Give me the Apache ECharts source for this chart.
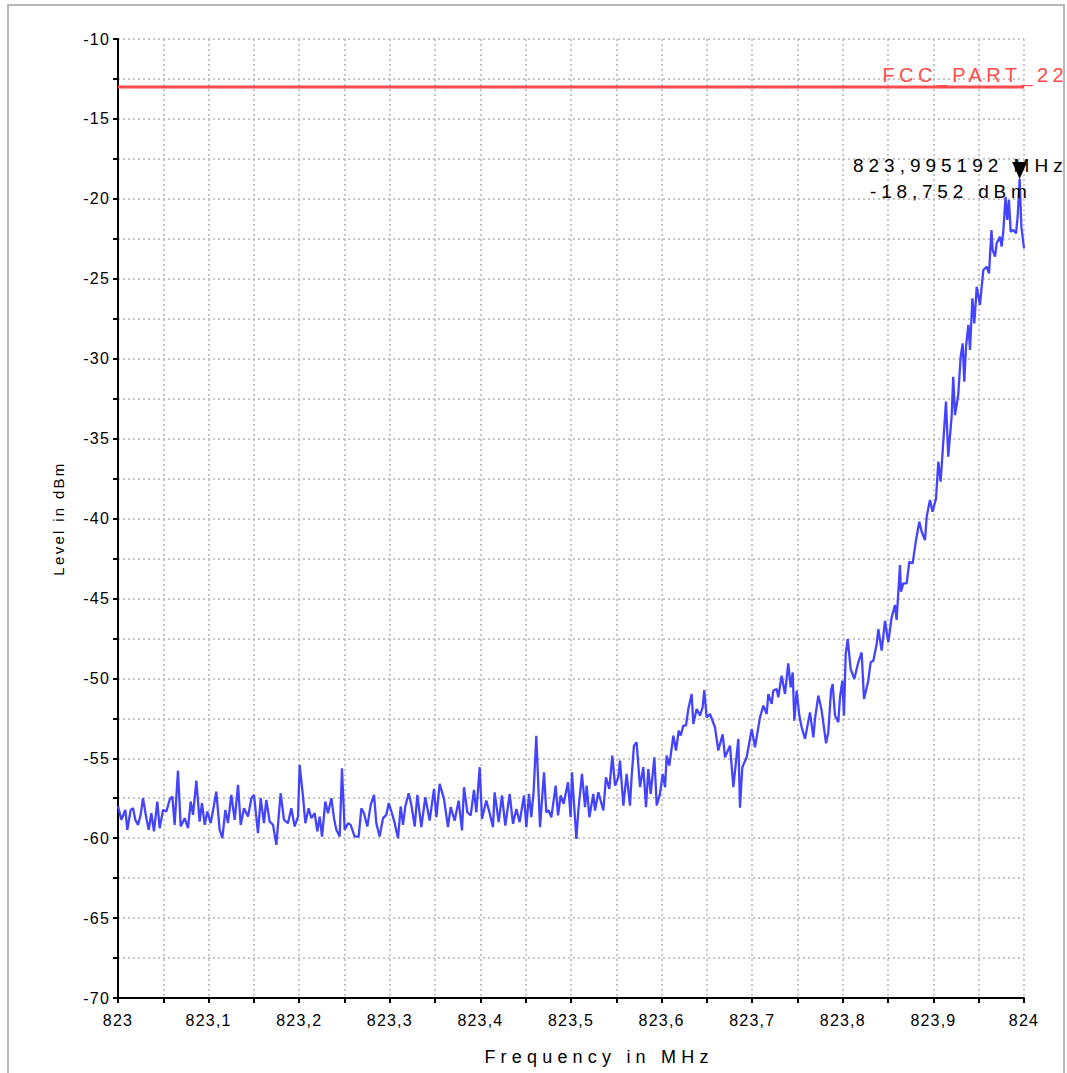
<!DOCTYPE html>
<html><head><meta charset="utf-8">
<script src="https://cdn.jsdelivr.net/npm/echarts@6/dist/echarts.min.js"></script>
<style>
html,body{margin:0;padding:0;background:#fff;overflow:hidden;}
#frame{position:absolute;left:7px;top:4px;width:1058px;height:1090px;border:2px solid #b8b8b8;box-sizing:border-box;pointer-events:none;}
#chart{position:absolute;left:0;top:0;width:1067px;height:1073px;}
#chart text{letter-spacing:1.2px;}
</style></head><body>
<div id="frame"></div>
<div id="chart"></div>
<script>
// ---- data ----
const freqMHz = [
823.0000,823.0037,823.0081,823.0103,823.0140,823.0166,823.0191,823.0221,823.0250,823.0276,
823.0313,823.0339,823.0368,823.0397,823.0434,823.0460,823.0497,823.0534,823.0570,823.0600,
823.0625,823.0662,823.0692,823.0736,823.0773,823.0802,823.0828,823.0865,823.0901,823.0927,
823.0957,823.0986,823.1023,823.1060,823.1085,823.1122,823.1152,823.1185,823.1214,823.1251,
823.1288,823.1325,823.1354,823.1391,823.1435,823.1472,823.1501,823.1545,823.1575,823.1611,
823.1637,823.1674,823.1711,823.1748,823.1795,823.1832,823.1876,823.1913,823.1950,823.1987,
823.2005,823.2042,823.2068,823.2104,823.2134,823.2171,823.2200,823.2226,823.2252,823.2288,
823.2318,823.2355,823.2384,823.2410,823.2447,823.2472,823.2502,823.2539,823.2568,823.2612,
823.2656,823.2686,823.2715,823.2752,823.2789,823.2826,823.2851,823.2888,823.2925,823.2962,
823.2988,823.3024,823.3054,823.3091,823.3120,823.3146,823.3171,823.3208,823.3238,823.3275,
823.3304,
823.3348,823.3392,823.3440,823.3488,823.3514,823.3550,823.3598,823.3642,823.3672,823.3716,
823.3760,823.3797,823.3819,823.3856,823.3893,823.3929,823.3955,823.3992,823.4018,823.4065,
823.4095,823.4139,823.4157,823.4202,823.4238,823.4275,823.4323,823.4360,823.4397,823.4433,
823.4481,823.4507,823.4536,823.4562,823.4588,823.4617,823.4658,823.4702,823.4728,823.4754,
823.4783,823.4831,823.4857,823.4886,823.4919,823.4967,823.4996,823.5011,823.5059,
823.5081,823.5121,823.5155,823.5173,823.5203,823.5246,823.5265,823.5302,823.5357,823.5386,
823.5423,823.5456,823.5486,823.5522,823.5541,823.5578,823.5614,823.5651,823.5670,823.5695,
823.5724,823.5762,823.5798,823.5828,823.5853,823.5880,823.5920,823.5946,823.5982,823.6012,
823.6038,823.6056,823.6085,823.6130,823.6159,823.6189,823.6211,823.6240,823.6269,823.6295,
823.6332,823.6350,823.6387,823.6424,823.6453,823.6471,823.6497,823.6534,823.6589,823.6626,
823.6645,823.6674,823.6700,823.6755,823.6792,823.6847,823.6865,823.6891,823.6939,823.6995,
823.7031,823.7086,823.7123,823.7160,823.7178,823.7215,823.7233,823.7270,823.7288,823.7325,
823.7362,823.7398,823.7425,823.7447,823.7465,823.7491,823.7520,823.7546,823.7583,823.7638,
823.7675,823.7693,823.7730,823.7767,823.7815,823.7840,823.7870,823.7888,823.7914,823.7950,
823.7969,823.7995,823.8013,823.8032,823.8054,823.8087,823.8127,823.8171,823.8208,823.8234,
823.8281,823.8307,823.8337,823.8374,823.8392,823.8429,823.8466,823.8502,823.8539,
823.8576,823.8594,823.8631,823.8642,823.8668,823.8705,823.8734,823.8771,823.8808,823.8845,
823.8871,823.8907,823.8926,823.8962,823.8991,823.9029,823.9054,823.9080,823.9109,823.9139,
823.9164,823.9201,823.9219,823.9238,823.9274,823.9301,823.9323,823.9341,823.9360,823.9386,
823.9404,823.9430,823.9452,823.9478,823.9514,823.9551,823.9588,823.9614,
823.9641,823.9654,823.9680,823.9698,823.9735,823.9753,823.9771,823.9797,823.9815,823.9834,
823.9853,823.9882,823.9912,823.9930,823.995192,823.9971,824.0000
];
const levelDbm = [
-58.0,-58.85,-58.23,-59.48,-58.23,-58.13,-58.85,-59.17,-58.54,-57.5,
-58.75,-59.48,-58.44,-59.58,-57.71,-59.38,-58.23,-58.33,-57.6,-57.4,
-59.17,-55.77,-59.27,-58.75,-59.38,-57.71,-58.54,-56.4,-58.96,-57.81,
-59.17,-58.33,-59.06,-57.92,-57.08,-59.48,-60.0,-58.23,-59.06,-57.29,
-58.85,-56.67,-59.17,-58.13,-58.65,-57.5,-57.29,-59.69,-57.5,-59.06,
-57.6,-58.96,-59.17,-60.42,-57.19,-58.85,-59.06,-58.13,-59.27,-58.65,
-55.42,-57.4,-59.06,-58.13,-58.75,-58.44,-59.58,-58.65,-59.9,-57.71,
-58.44,-57.5,-58.75,-59.48,-59.9,-55.63,-59.48,-59.06,-59.17,-59.9,
-59.9,-58.13,-58.44,-59.27,-57.92,-57.29,-59.06,-59.9,-58.75,-58.54,
-57.81,-58.44,-59.06,-60.0,-58.02,-59.17,-58.02,-57.19,-57.92,-59.27,
-57.29,
-59.31,-57.44,-58.9,-56.92,-58.69,-56.6,-57.54,-59.31,-58.06,-58.9,
-57.65,-59.52,-56.81,-58.38,-58.58,-56.98,-58.38,-55.56,-58.79,-57.65,
-58.27,-59.31,-57.13,-59.0,-57.33,-59.21,-57.23,-59.1,-58.17,-59.0,
-57.33,-59.31,-57.23,-58.69,-57.02,-53.6,-59.31,-55.88,-58.38,-58.27,
-58.69,-56.71,-58.58,-57.33,-57.85,-56.5,-58.69,-55.88,-60.04,
-58.27,-55.98,-58.06,-56.71,-58.69,-57.23,-58.27,-57.13,-58.27,-56.19,
-56.92,-54.83,-56.71,-56.19,-55.15,-57.96,-55.98,-57.96,-56.08,-54.21,
-54.0,-56.81,-55.56,-58.06,-55.67,-57.23,-54.94,-57.96,-57.23,-55.98,
-56.81,-54.83,-55.46,-53.58,-54.52,-53.27,-53.58,-52.96,-52.96,-51.92,
-50.98,-52.85,-51.92,-52.33,-51.81,-50.73,-52.44,-52.23,-53.06,-54.52,
-54.1,-53.5,-54.94,-54.21,-56.81,-53.79,-58.1,-55.56,-54.94,-53.17,
-54.31,-52.44,-51.71,-52.23,-50.98,-51.6,-50.77,-50.67,-51.19,-49.83,
-50.98,-49.06,-50.56,-49.63,-52.65,-50.77,-52.33,-53.06,-53.79,-52.13,
-53.69,-52.54,-51.08,-52.02,-54.06,-53.37,-50.77,-50.35,-52.33,-52.75,
-51.19,-50.15,-52.33,-48.48,-47.54,-49.42,-50.04,-49.0,-48.38,-51.29,
-50.15,-49.0,-48.9,-47.85,-46.92,-48.27,-46.4,-47.75,-46.19,
-45.41,-46.35,-42.91,-44.58,-44.06,-44.06,-42.7,-42.81,-41.35,-40.2,
-40.83,-41.35,-39.89,-38.84,-39.57,-38.74,-36.45,-37.7,-35.2,-32.69,
-36.13,-33.63,-31.13,-33.53,-32.27,-29.88,-29.04,-31.44,-29.25,-27.89,
-29.46,-26.22,-27.79,-25.5,-26.64,-24.45,-24.25,-24.66,
-21.95,-23.2,-23.62,-22.78,-22.37,-22.99,-22.06,-19.87,-21.32,-20.07,
-22.06,-21.95,-22.16,-21.12,-18.752,-21.74,-23.1
];
const limitName = 'FCC_PART_22';
const limitLevel = -13;
const peakFreq = 823.995192;
const peakLevel = -18.752;
const peakFreqLabel = '823,995192 MHz';
const peakLevelLabel = '-18,752 dBm';
const xTickLabels = ['823','823,1','823,2','823,3','823,4','823,5','823,6','823,7','823,8','823,9','824'];
const yTickLabels = ['-70','-65','-60','-55','-50','-45','-40','-35','-30','-25','-20','-15','-10'];
const xTitle = 'Frequency in MHz';
const yTitle = 'Level in dBm';

const traceData = freqMHz.map((f, i) => [f, levelDbm[i]]);
const FONT = '"Liberation Sans", Arial, sans-serif';
const gridLine = {show: true, lineStyle: {color: '#b4b4b4', width: 1.5, type: [2, 3]}};

const chart = echarts.init(document.getElementById('chart'), null, {renderer: 'svg', width: 1067, height: 1073});
chart.setOption({
  animation: false,
  textStyle: {fontFamily: FONT, color: '#000'},
  grid: {left: 118, right: 43, top: 39, bottom: 75},
  xAxis: {
    type: 'value', min: 823, max: 824, interval: 0.05,
    name: xTitle, nameLocation: 'middle', nameGap: 50,
    nameTextStyle: {fontSize: 18, color: '#000', fontFamily: FONT, padding: [0, 0, 0, 56]},
    axisLine: {show: true, onZero: false, lineStyle: {color: '#000', width: 2}},
    axisTick: {show: true, length: 5, lineStyle: {color: '#000', width: 2}},
    axisLabel: {
      fontSize: 16, color: '#000', margin: 14, fontFamily: FONT,
      showMinLabel: true, showMaxLabel: true, hideOverlap: false,
      formatter: v => { const k = Math.round((v - 823) / 0.05); return k % 2 ? '' : xTickLabels[k / 2]; }
    },
    splitLine: gridLine
  },
  yAxis: {
    type: 'value', min: -70, max: -10, interval: 2.5,
    name: yTitle, nameLocation: 'middle', nameGap: 52, nameRotate: 90,
    nameTextStyle: {fontSize: 15, color: '#000', fontFamily: FONT},
    axisLine: {show: true, onZero: false, lineStyle: {color: '#000', width: 2}},
    axisTick: {show: true, length: 5, lineStyle: {color: '#000', width: 2}},
    axisLabel: {
      fontSize: 16, color: '#000', margin: 8, fontFamily: FONT,
      showMinLabel: true, showMaxLabel: true, hideOverlap: false,
      formatter: v => { const k = Math.round((v + 70) / 2.5); return k % 2 ? '' : yTickLabels[k / 2]; }
    },
    splitLine: gridLine
  },
  series: [
    {
      type: 'line', data: traceData, symbol: 'none', z: 3,
      lineStyle: {color: '#4444ff', width: 2.3},
      markPoint: {
        silent: true,
        itemStyle: {color: '#000'},
        data: [
          {coord: [peakFreq, peakLevel], symbol: 'path://M0,0 L10,0 L5,11 Z', symbolSize: [15, 17], symbolOffset: [0, '-50%'], label: {show: false}},
          {coord: [peakFreq, peakLevel], symbol: 'circle', symbolSize: 0,
           label: {show: true, position: 'inside', align: 'right', verticalAlign: 'middle', formatter: peakFreqLabel,
                   offset: [48, -13], fontSize: 19, color: '#000', fontFamily: FONT}},
          {coord: [peakFreq, peakLevel], symbol: 'circle', symbolSize: 0,
           label: {show: true, position: 'inside', align: 'right', verticalAlign: 'middle', formatter: peakLevelLabel,
                   offset: [12, 13], fontSize: 19, color: '#000', fontFamily: FONT}}
        ]
      }
    },
    {
      type: 'line', data: [[823, limitLevel], [824, limitLevel]], symbol: 'none', z: 2,
      lineStyle: {color: '#ff4c4c', width: 3},
      markPoint: {
        silent: true,
        data: [
          {coord: [824, limitLevel], symbol: 'circle', symbolSize: 0,
           label: {show: true, position: 'inside', align: 'right', verticalAlign: 'middle', formatter: limitName,
                   offset: [44, -12], fontSize: 20, color: '#ff4c4c', fontFamily: FONT}}
        ]
      }
    }
  ]
});

function applySpacing() {
  document.querySelectorAll('#chart svg text').forEach(t => {
    const s = t.textContent;
    let ls = null;
    if (s === limitName) ls = 4.4;
    else if (s === peakFreqLabel) ls = 5.0;
    else if (s === peakLevelLabel) ls = 4.8;
    else if (s === xTitle) ls = 5.2;
    else if (s === yTitle) ls = 2.3;
    if (ls !== null) t.style.letterSpacing = ls + 'px';
  });
}
applySpacing();
chart.on('finished', applySpacing);
</script>
</body></html>
